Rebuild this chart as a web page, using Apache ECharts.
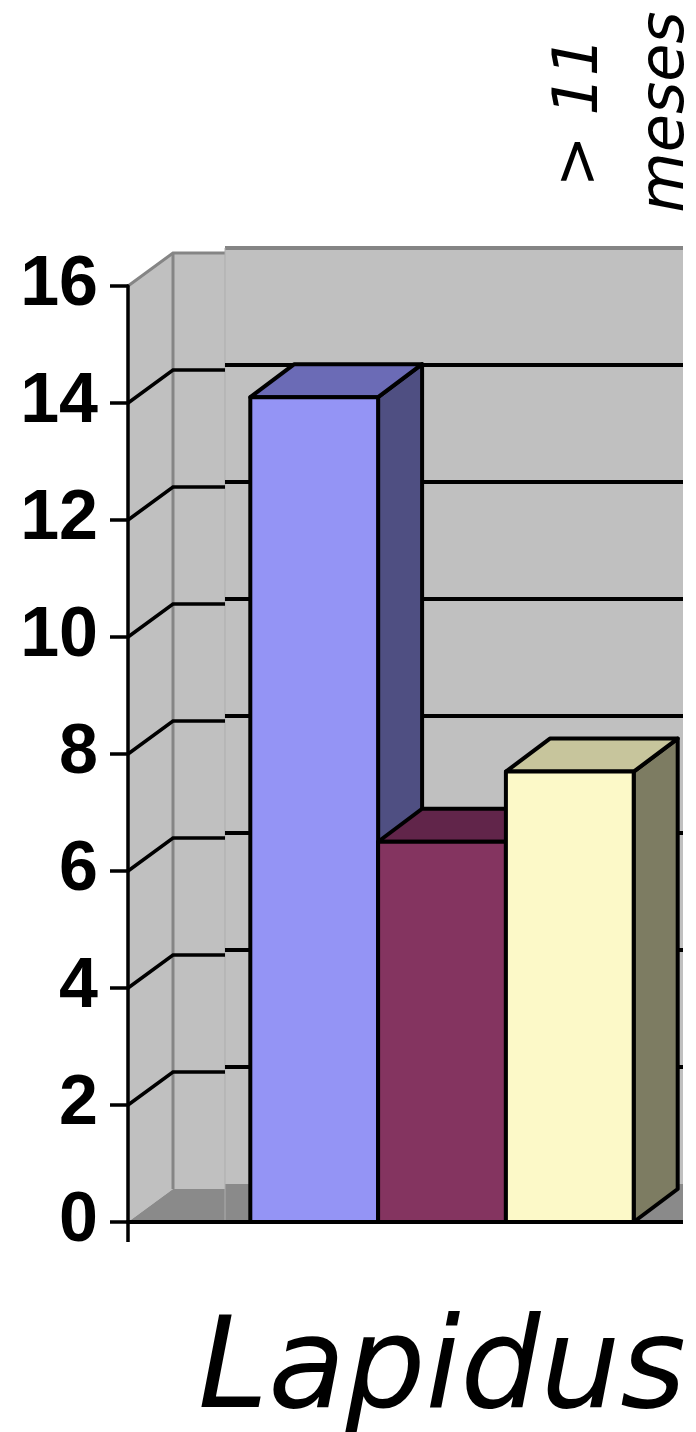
<!DOCTYPE html>
<html>
<head>
<meta charset="utf-8">
<style>
  html, body { margin: 0; padding: 0; background: #ffffff; }
  #chart { width: 696px; height: 1432px; }
</style>
<script src="https://cdn.jsdelivr.net/npm/echarts@6/dist/echarts.min.js"></script>
</head>
<body>
<div id="chart"></div>
<script>
// ---- data ----
const categories = ['Lapidus'];
const seriesNames = ['Serie 1', 'Serie 2', 'Serie 3'];
const blueValues = [14.1];
const maroonValues = [6.5];
const yellowValues = [7.7];
const yMin = 0;
const yMax = 16;
const yInterval = 2;
const gridValues = [2, 4, 6, 8, 10, 12, 14];
const topLabelLines = ['> 11', 'meses'];

// ---- styling ----
const DX = 45, DY = -33;      // wall depth
const BDX = 44, BDY = -33;    // bar depth
const SPLIT = 97, SHIFT = 5;  // slight step in the back wall
const BAR_FRAC = 0.2035;
const WALL = '#c0c0c0', FLOOR = '#8a8a8a', EDGE = '#858585';
const barColors = [
  { front: '#9494f5', top: '#6b6bb6', side: '#4f4f82' },
  { front: '#843460', top: '#61254a', side: '#4a1c38' },
  { front: '#fcf9c8', top: '#c7c59c', side: '#7d7c62' }
];

function wallGeom(api) {
  const base = api.coord([0, yMin]);
  const yTop = api.coord([0, yMax])[1];
  const band = api.size([1, 0])[0];
  const L = base[0] - band / 2;
  const R = base[0] + band / 2 + DX;
  return { L: L, R: R, y0: base[1], yTop: yTop, sp: L + SPLIT };
}

function renderWalls(params, api) {
  const g = wallGeom(api);
  const L = g.L, R = g.R, y0 = g.y0, yT = g.yTop, sp = g.sp;
  const fillPoly = (pts, color) => ({ type: 'polygon', shape: { points: pts }, style: { fill: color } });
  const line = (pts, color, w) => ({ type: 'polyline', shape: { points: pts }, style: { stroke: color, lineWidth: w, fill: null } });
  return {
    type: 'group',
    children: [
      fillPoly([[L, y0], [L, yT], [L + DX, yT + DY], [L + DX, y0 + DY]], WALL),
      fillPoly([[L + DX, yT + DY], [sp, yT + DY], [sp, y0 + DY], [L + DX, y0 + DY]], WALL),
      fillPoly([[sp, yT + DY - SHIFT], [R, yT + DY - SHIFT], [R, y0 + DY - SHIFT], [sp, y0 + DY - SHIFT]], WALL),
      fillPoly([[L, y0], [L + DX, y0 + DY], [sp, y0 + DY], [sp, y0]], FLOOR),
      fillPoly([[sp, y0 + DY - SHIFT], [R, y0 + DY - SHIFT], [R, y0], [sp, y0]], FLOOR),
      line([[L, yT], [L + DX, yT + DY], [sp, yT + DY]], EDGE, 3),
      line([[sp, yT + DY - SHIFT], [R, yT + DY - SHIFT]], EDGE, 4),
      line([[L + DX, yT + DY], [L + DX, y0 + DY]], EDGE, 3),
      line([[sp, yT + DY - SHIFT], [sp, y0]], '#adadad', 1)
    ]
  };
}

function renderGridLine(params, api) {
  const g = wallGeom(api);
  const y = api.coord([0, api.value(1)])[1];
  return {
    type: 'group',
    children: [
      { type: 'polyline', shape: { points: [[g.L, y], [g.L + DX, y + DY], [g.sp, y + DY]] },
        style: { stroke: '#000', lineWidth: 3.5, fill: null } },
      { type: 'polyline', shape: { points: [[g.sp, y + DY - SHIFT], [g.R, y + DY - SHIFT]] },
        style: { stroke: '#000', lineWidth: 4, fill: null } }
    ]
  };
}

function makeBarRender(idx) {
  const c = barColors[idx];
  return function (params, api) {
    const cat = api.value(0);
    const top = api.coord([cat, api.value(1)]);
    const base = api.coord([cat, yMin]);
    const band = api.size([1, 0])[0];
    const w = band * BAR_FRAC;
    const x = top[0] - 1.5 * w + idx * w;
    const yT = top[1], yB = base[1];
    const st = (fill) => ({ fill: fill, stroke: '#000', lineWidth: 4, lineJoin: 'round' });
    return {
      type: 'group',
      children: [
        { type: 'polygon', shape: { points: [[x + w, yT], [x + w + BDX, yT + BDY], [x + w + BDX, yB + BDY], [x + w, yB]] }, style: st(c.side) },
        { type: 'polygon', shape: { points: [[x, yT], [x + BDX, yT + BDY], [x + w + BDX, yT + BDY], [x + w, yT]] }, style: st(c.top) },
        { type: 'rect', shape: { x: x, y: yT, width: w, height: yB - yT }, style: st(c.front) }
      ]
    };
  };
}

const chart = echarts.init(document.getElementById('chart'), null, { renderer: 'canvas' });
const valueSets = [blueValues, maroonValues, yellowValues];

chart.setOption({
  backgroundColor: '#ffffff',
  animation: false,
  grid: { left: 128, right: -60, top: 286, bottom: 210, containLabel: false, outerBoundsMode: 'none' },
  xAxis: {
    type: 'category',
    data: categories,
    z: 10,
    axisLine: { show: true, lineStyle: { color: '#000', width: 4 } },
    axisTick: { show: true, length: 20, lineStyle: { color: '#000', width: 3.5 } },
    axisLabel: { fontSize: 126, fontStyle: 'italic', fontFamily: 'DejaVu Sans', color: '#000', margin: 89 },
    splitLine: { show: false }
  },
  yAxis: {
    type: 'value',
    min: yMin, max: yMax, interval: yInterval,
    z: 10,
    axisLine: { show: true, lineStyle: { color: '#000', width: 3.5 } },
    axisTick: { show: true, length: 18, lineStyle: { color: '#000', width: 3.5 } },
    axisLabel: { fontSize: 70, fontWeight: 'bold', fontFamily: 'Liberation Sans', color: '#000', margin: 30 },
    splitLine: { show: false }
  },
  graphic: [
    { type: 'rect', z: 100, shape: { x: 683, y: 236, width: 20, height: 1030 }, style: { fill: '#ffffff' } },
    { type: 'text', z: 100, x: 624, y: 112, rotation: Math.PI / 2,
      style: { text: topLabelLines.join('\n'), fontSize: 62, fontStyle: 'italic', fontFamily: 'DejaVu Sans',
               fill: '#000', align: 'center', verticalAlign: 'middle', lineHeight: 86 } }
  ],
  series: [
    { type: 'custom', name: 'walls', silent: true, renderItem: renderWalls, data: [[0, yMin]] },
    { type: 'custom', name: 'gridlines', silent: true, renderItem: renderGridLine, data: gridValues.map(v => [0, v]) }
  ].concat(valueSets.map((vals, i) => ({
    type: 'custom', name: seriesNames[i], renderItem: makeBarRender(i),
    data: vals.map((v, j) => [j, v])
  })))
});
</script>
</body>
</html>
